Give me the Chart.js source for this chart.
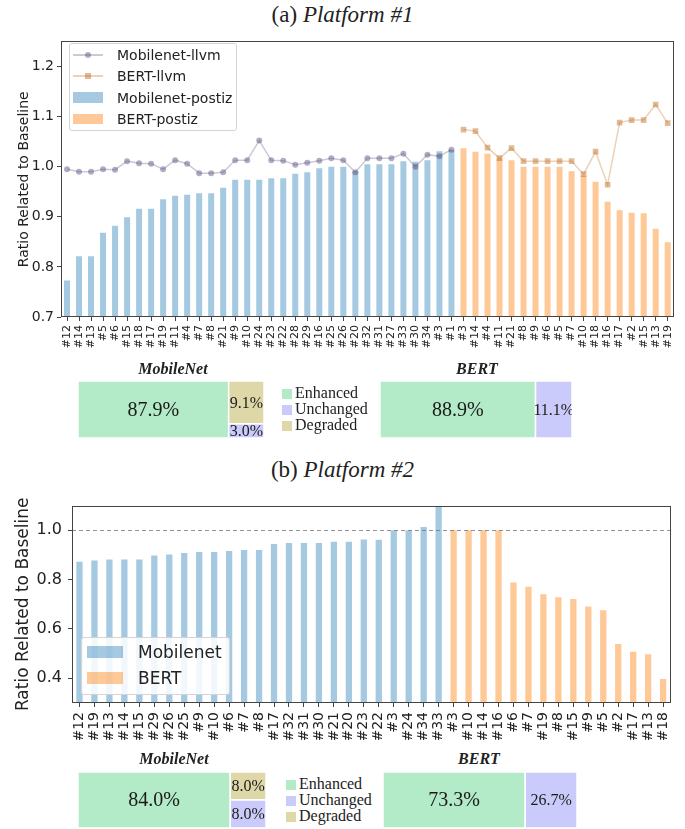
<!DOCTYPE html>
<html>
<head>
<meta charset="utf-8">
<script src="https://cdn.jsdelivr.net/npm/chart.js@4.4.1/dist/chart.umd.min.js"></script>
<style>
  body { margin: 0; background: #fff; }
  #page { position: relative; width: 685px; height: 829px; overflow: hidden; color: #222; font-family: "DejaVu Sans", sans-serif; }
  .abs { position: absolute; }
  .title { left: 0; width: 685px; text-align: center; font-family: "Liberation Serif", "Times New Roman", serif; font-size: 23px; line-height: 23px; }
  .boxname { width: 120px; text-align: center; font-family: "Liberation Serif", serif; font-weight: bold; font-style: italic; font-size: 16px; line-height: 16px; }
  .legend { background: rgba(255,255,255,0.85); border: 1px solid #d4d4d4; border-radius: 3px; box-sizing: border-box; }
  .item { position: absolute; left: 0; white-space: nowrap; }
  .swatch { position: absolute; }
  .keys { font-family: "Liberation Serif", serif; font-size: 16px; line-height: 16px; }
  .key { position: absolute; left: 0; height: 16px; white-space: nowrap; }
  .key span.sq { display: inline-block; width: 10px; height: 10px; margin-right: 3px; vertical-align: -1px; }
</style>
</head>
<body>
<div id="page">
  <div class="abs title" style="top:3px">(a) <i>Platform #1</i></div>
  <canvas id="c1" class="abs" style="left:0;top:30px" width="685" height="340"></canvas>
  <div id="leg1" class="abs legend" style="left:69px;top:43px;width:168px;height:88px"></div>

  <div class="abs boxname" style="left:113px;top:361px">MobileNet</div>
  <div class="abs boxname" style="left:417px;top:361px">BERT</div>
  <canvas id="b1" class="abs" style="left:78px;top:381px" width="186" height="57"></canvas>
  <canvas id="b2" class="abs" style="left:380px;top:381px" width="192" height="57"></canvas>
  <div id="keys1" class="abs keys" style="left:282px;top:385px"></div>

  <div class="abs title" style="top:458px">(b) <i>Platform #2</i></div>
  <canvas id="c2" class="abs" style="left:0;top:490px" width="685" height="250"></canvas>
  <div id="leg2" class="abs legend" style="left:81px;top:637px;width:149px;height:58px"></div>

  <div class="abs boxname" style="left:114px;top:751px">MobileNet</div>
  <div class="abs boxname" style="left:419px;top:751px">BERT</div>
  <canvas id="b3" class="abs" style="left:78px;top:772px" width="188" height="56"></canvas>
  <canvas id="b4" class="abs" style="left:383px;top:772px" width="194" height="56"></canvas>
  <div id="keys2" class="abs keys" style="left:286px;top:776px"></div>
</div>
<script>
// Platform #1
const MN1_LABELS = ["#12", "#14", "#13", "#5", "#6", "#15", "#18", "#17", "#19", "#11", "#4", "#7", "#8", "#21", "#9", "#10", "#24", "#23", "#22", "#28", "#29", "#16", "#25", "#26", "#20", "#32", "#31", "#27", "#33", "#30", "#34", "#3", "#1"];
const MN1_POSTIZ = [0.773, 0.821, 0.821, 0.868, 0.882, 0.899, 0.916, 0.916, 0.935, 0.942, 0.944, 0.947, 0.947, 0.958, 0.974, 0.974, 0.974, 0.977, 0.977, 0.986, 0.989, 0.997, 1.000, 1.000, 0.991, 1.005, 1.005, 1.005, 1.011, 1.010, 1.013, 1.031, 1.034];
const MN1_LLVM = [0.995, 0.990, 0.990, 0.995, 0.994, 1.011, 1.007, 1.006, 0.995, 1.013, 1.006, 0.987, 0.987, 0.989, 1.013, 1.013, 1.052, 1.013, 1.012, 1.004, 1.008, 1.012, 1.017, 1.013, 0.989, 1.017, 1.017, 1.017, 1.026, 1.000, 1.024, 1.021, 1.034];
const BERT1_LABELS = ["#3", "#14", "#4", "#11", "#21", "#8", "#9", "#6", "#5", "#7", "#10", "#18", "#16", "#17", "#2", "#15", "#13", "#19"];
const BERT1_POSTIZ = [1.037, 1.030, 1.026, 1.017, 1.013, 1.000, 1.000, 1.000, 1.000, 0.991, 0.982, 0.970, 0.930, 0.913, 0.908, 0.907, 0.876, 0.849];
const BERT1_LLVM = [1.074, 1.071, 1.038, 1.017, 1.037, 1.011, 1.011, 1.011, 1.011, 1.011, 0.985, 1.030, 0.964, 1.088, 1.093, 1.093, 1.124, 1.087];
const Y1_TICKS = [0.7, 0.8, 0.9, 1.0, 1.1, 1.2];

// Platform #2
const MN2_LABELS = ["#12", "#19", "#13", "#14", "#15", "#29", "#26", "#25", "#9", "#10", "#6", "#7", "#8", "#17", "#32", "#31", "#30", "#21", "#20", "#23", "#22", "#3", "#24", "#34", "#33"];
const MN2_VALUES = [0.872, 0.878, 0.882, 0.882, 0.882, 0.898, 0.902, 0.908, 0.912, 0.912, 0.916, 0.920, 0.920, 0.944, 0.948, 0.948, 0.948, 0.954, 0.954, 0.963, 0.962, 1.000, 1.000, 1.013, 1.094];
const BERT2_LABELS = ["#3", "#10", "#14", "#16", "#6", "#7", "#19", "#8", "#15", "#9", "#5", "#2", "#17", "#13", "#18"];
const BERT2_VALUES = [1.000, 1.000, 1.000, 1.000, 0.788, 0.771, 0.741, 0.729, 0.721, 0.691, 0.676, 0.539, 0.508, 0.498, 0.397];
const Y2_TICKS = [0.4, 0.6, 0.8, 1.0];
const BASELINE = 1.0;

// share boxes: [Enhanced, Unchanged, Degraded] in percent
const SHARE_CATS = ["Enhanced", "Unchanged", "Degraded"];
const SHARE_COLORS = ["#b3eac8", "#cbcbfb", "#ded7a8"];
const MN1_SHARES = [87.9, 3.0, 9.1];
const BERT1_SHARES = [88.9, 11.1, 0];
const MN2_SHARES = [84.0, 8.0, 8.0];
const BERT2_SHARES = [73.3, 26.7, 0];

const BLUE = "rgba(31,119,180,0.4)";
const ORANGE = "rgba(255,127,14,0.43)";
const AXIS = "#444";
const MIN_COL_PCT = 19;

const pad = (arr, before, after) =>
  Array(before).fill(null).concat(arr, Array(after).fill(null));

// box around the plot area like matplotlib spines
const framePlugin = {
  id: "frame",
  afterDraw(chart) {
    const { ctx, chartArea: a } = chart;
    ctx.save();
    ctx.strokeStyle = AXIS;
    ctx.lineWidth = 1;
    ctx.strokeRect(Math.round(a.left) + 0.5, Math.round(a.top) + 0.5, Math.round(a.width) - 1, Math.round(a.height) - 1);
    ctx.restore();
  },
};

const baselinePlugin = {
  id: "baseline",
  afterDatasetsDraw(chart, args, opts) {
    if (opts.value == null) return;
    const { ctx, chartArea: a, scales } = chart;
    const y = Math.round(scales.y.getPixelForValue(opts.value)) + 0.5;
    ctx.save();
    ctx.strokeStyle = "rgba(120,120,120,0.8)";
    ctx.lineWidth = 1;
    ctx.setLineDash([4, 3]);
    ctx.beginPath();
    ctx.moveTo(a.left, y);
    ctx.lineTo(a.right, y);
    ctx.stroke();
    ctx.restore();
  },
};

function axisOptions(cfg) {
  return {
    x: {
      grid: { drawOnChartArea: false, offset: false, tickLength: 4, color: AXIS },
      border: { display: false },
      ticks: {
        autoSkip: false, maxRotation: 90, minRotation: 90, padding: cfg.xPad, color: "#222",
        font: { family: "DejaVu Sans", size: cfg.xFont },
      },
      afterFit: (s) => { s.height = cfg.xHeight; },
    },
    y: {
      min: cfg.min, max: cfg.max,
      afterBuildTicks: (axis) => { axis.ticks = cfg.ticks.map((v) => ({ value: v })); },
      grid: { drawOnChartArea: false, tickLength: 4, color: AXIS },
      border: { display: false },
      ticks: {
        callback: (v) => Number(v).toFixed(1), padding: cfg.yPad, color: "#222",
        font: { family: "DejaVu Sans", size: cfg.yFont },
      },
      title: {
        display: true, text: "Ratio Related to Baseline", color: "#222",
        font: { family: "DejaVu Sans", size: cfg.titleFont }, padding: { top: cfg.titlePad, bottom: 0 },
      },
      afterFit: (s) => { s.width = cfg.yWidth; },
    },
  };
}

// 1. Platform #1 chart
const n1 = MN1_LABELS.length, n2 = BERT1_LABELS.length;
const chart1 = new Chart(document.getElementById("c1"), {
  type: "bar",
  data: {
    labels: MN1_LABELS.concat(BERT1_LABELS),
    datasets: [
      {
        type: "line", label: "Mobilenet-llvm", data: pad(MN1_LLVM, 0, n2),
        borderColor: "rgba(88,72,122,0.3)", borderWidth: 1.5,
        pointStyle: "circle", pointRadius: 3, pointBorderWidth: 0,
        pointBackgroundColor: "rgba(88,72,122,0.45)", tension: 0, order: 0,
      },
      {
        type: "line", label: "BERT-llvm", data: pad(BERT1_LLVM, n1, 0),
        borderColor: "rgba(188,105,22,0.3)", borderWidth: 1.5,
        pointStyle: "rect", pointRadius: 4, pointBorderWidth: 0,
        pointBackgroundColor: "rgba(188,105,22,0.45)", tension: 0, order: 0,
      },
      {
        label: "Mobilenet-postiz", data: pad(MN1_POSTIZ, 0, n2), backgroundColor: BLUE,
        barPercentage: 0.5, categoryPercentage: 1, grouped: false, order: 1,
      },
      {
        label: "BERT-postiz", data: pad(BERT1_POSTIZ, n1, 0), backgroundColor: ORANGE,
        barPercentage: 0.5, categoryPercentage: 1, grouped: false, order: 1,
      },
    ],
  },
  options: {
    responsive: false, animation: false, devicePixelRatio: 1,
    layout: { padding: { top: 4, right: 11, left: 0, bottom: 0 } },
    plugins: { legend: { display: false }, tooltip: { enabled: false } },
    scales: axisOptions({
      min: 0.7, max: 1.25, ticks: Y1_TICKS, xFont: 11, xPad: 4, xHeight: 53,
      yFont: 14, yPad: 3, titleFont: 14, titlePad: 16, yWidth: 61,
    }),
  },
  plugins: [framePlugin],
});

// 2. Platform #2 chart
const m1 = MN2_LABELS.length, m2 = BERT2_LABELS.length;
const chart2 = new Chart(document.getElementById("c2"), {
  type: "bar",
  data: {
    labels: MN2_LABELS.concat(BERT2_LABELS),
    datasets: [
      {
        label: "Mobilenet", data: pad(MN2_VALUES, 0, m2), backgroundColor: BLUE,
        barPercentage: 0.42, categoryPercentage: 1, grouped: false,
      },
      {
        label: "BERT", data: pad(BERT2_VALUES, m1, 0), backgroundColor: ORANGE,
        barPercentage: 0.42, categoryPercentage: 1, grouped: false,
      },
    ],
  },
  options: {
    responsive: false, animation: false, devicePixelRatio: 1,
    layout: { padding: { top: 11, right: 7, left: 0, bottom: 0 } },
    plugins: { legend: { display: false }, tooltip: { enabled: false }, baseline: { value: BASELINE } },
    scales: axisOptions({
      min: 0.3, max: 1.1, ticks: Y2_TICKS, xFont: 14, xPad: 5, xHeight: 37,
      yFont: 16, yPad: 6, titleFont: 17, titlePad: 13, yWidth: 72,
    }),
  },
  plugins: [framePlugin, baselinePlugin],
});

// 3. Legends built from the chart datasets
function buildLegend(el, chart, cfg) {
  chart.data.datasets.forEach((ds, i) => {
    const cy = cfg.first + i * cfg.step;
    const sw = document.createElement("div");
    sw.className = "swatch";
    if (ds.type === "line") {
      const m = ds.pointStyle === "rect" ? 6 : 6;
      sw.style.cssText = `left:${cfg.swLeft}px;top:${cy - 1}px;width:${cfg.swWidth}px;height:1.5px;background:${ds.borderColor}`;
      const dot = document.createElement("div");
      dot.style.cssText = `position:absolute;left:${cfg.swWidth / 2 - m / 2}px;top:${-m / 2 + 0.75}px;width:${m}px;height:${m}px;` +
        `background:${ds.pointBackgroundColor};border-radius:${ds.pointStyle === "rect" ? 0 : "50%"}`;
      sw.appendChild(dot);
    } else {
      sw.style.cssText = `left:${cfg.swLeft}px;top:${cy - cfg.swHeight / 2}px;width:${cfg.swWidth}px;height:${cfg.swHeight}px;background:${ds.backgroundColor}`;
    }
    el.appendChild(sw);
    const tx = document.createElement("div");
    tx.className = "item";
    tx.textContent = ds.label;
    tx.style.cssText = `left:${cfg.textLeft}px;top:${cy - cfg.font / 2 - 1}px;font-size:${cfg.font}px;line-height:${cfg.font + 2}px`;
    el.appendChild(tx);
  });
}
buildLegend(document.getElementById("leg1"), chart1,
  { first: 11, step: 21.3, swLeft: 3, swWidth: 30, swHeight: 10.5, textLeft: 47, font: 14 });
buildLegend(document.getElementById("leg2"), chart2,
  { first: 14, step: 26, swLeft: 5, swWidth: 36, swHeight: 12, textLeft: 56, font: 17 });

function buildKeys(el) {
  SHARE_CATS.forEach((name, i) => {
    const k = document.createElement("div");
    k.className = "key";
    k.style.top = (i * 16) + "px";
    k.innerHTML = `<span class="sq" style="background:${SHARE_COLORS[i]}"></span>${name}`;
    el.appendChild(k);
  });
}
buildKeys(document.getElementById("keys1"));
buildKeys(document.getElementById("keys2"));

// 4. Share boxes: enhanced block on the left, the rest stacked in a column
const shareBoxPlugin = {
  id: "shareBox",
  afterDraw(chart, args, opts) {
    const [enh, unch, degr] = opts.shares;
    const rest = unch + degr;
    const split = rest > 0 ? 100 - Math.max(rest, MIN_COL_PCT) : 100;
    const cells = [{ v: enh, x0: 0, x1: split, y0: 0, y1: 100, color: SHARE_COLORS[0], size: 20 }];
    let top = 100;
    [[degr, SHARE_COLORS[2]], [unch, SHARE_COLORS[1]]].forEach(([v, c]) => {
      if (v > 0) {
        const h = (v / rest) * 100;
        cells.push({ v, x0: split, x1: 100, y0: top - h, y1: top, color: c, size: 16 });
        top -= h;
      }
    });
    const { ctx, scales: { x, y } } = chart;
    ctx.save();
    cells.forEach((c) => {
      const l = x.getPixelForValue(c.x0), r = x.getPixelForValue(c.x1);
      const t = y.getPixelForValue(c.y1), b = y.getPixelForValue(c.y0);
      ctx.fillStyle = c.color;
      ctx.fillRect(l, t, r - l, b - t);
      ctx.strokeStyle = "#fff";
      ctx.lineWidth = 1.5;
      ctx.strokeRect(l, t, r - l, b - t);
      ctx.fillStyle = "#1a1a1a";
      ctx.font = `${c.size}px "Liberation Serif", serif`;
      ctx.textAlign = "center";
      ctx.textBaseline = "middle";
      ctx.fillText(c.v.toFixed(1) + "%", (l + r) / 2, (t + b) / 2 + 1);
    });
    ctx.restore();
  },
};

function shareBox(id, shares) {
  return new Chart(document.getElementById(id), {
    type: "scatter",
    data: { datasets: [] },
    options: {
      responsive: false, animation: false, devicePixelRatio: 1,
      layout: { padding: 0 },
      plugins: { legend: { display: false }, tooltip: { enabled: false }, shareBox: { shares } },
      scales: {
        x: { type: "linear", min: 0, max: 100, display: false },
        y: { type: "linear", min: 0, max: 100, display: false },
      },
    },
    plugins: [shareBoxPlugin],
  });
}
shareBox("b1", MN1_SHARES);
shareBox("b2", BERT1_SHARES);
shareBox("b3", MN2_SHARES);
shareBox("b4", BERT2_SHARES);
</script>
</body>
</html>
